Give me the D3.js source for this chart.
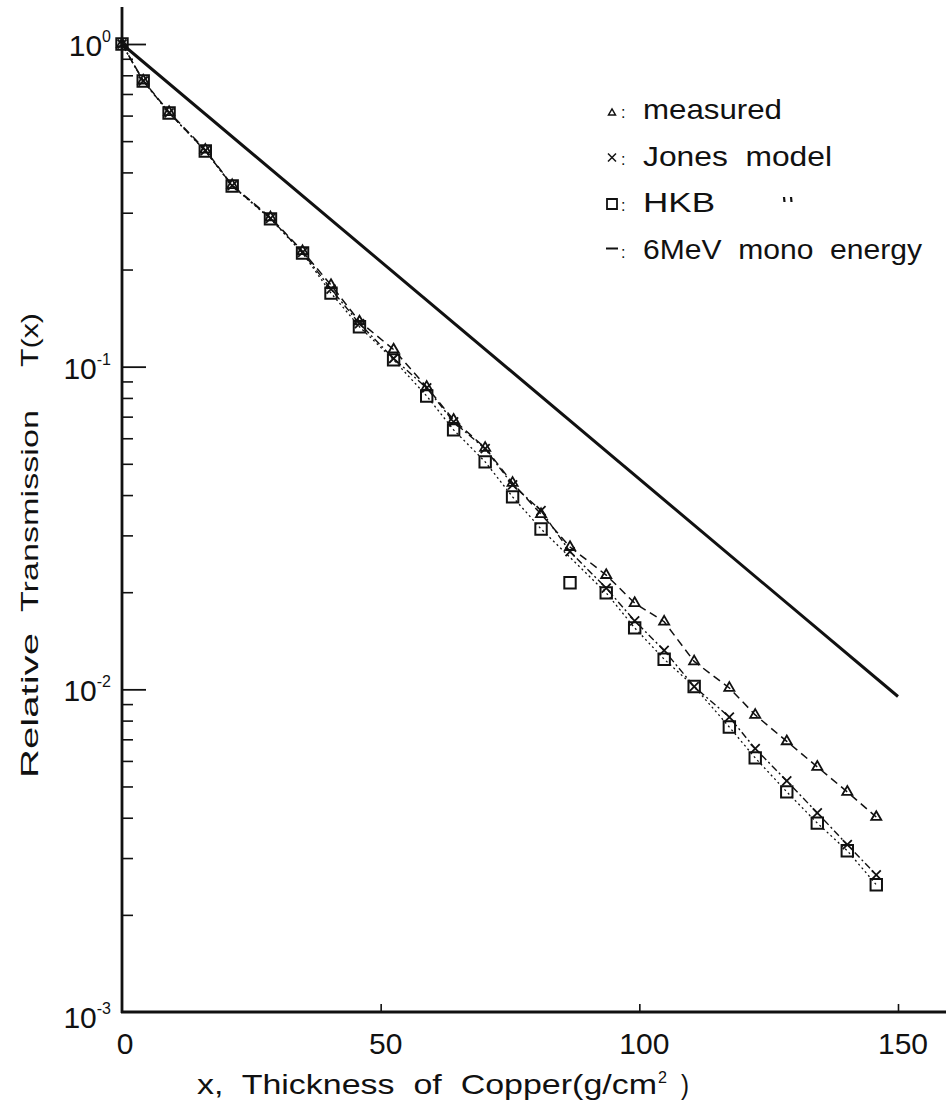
<!DOCTYPE html>
<html>
<head>
<meta charset="utf-8">
<script src="https://cdn.jsdelivr.net/npm/d3@7"></script>
<style>
  html, body { margin: 0; padding: 0; background: #fff; }
  svg { display: block; font-family: "Liberation Sans", Arial, sans-serif; }
</style>
</head>
<body>
<svg id="chart" width="946" height="1110"></svg>
<script>
// --- data (x in g/cm^2, T relative) ---
const thickness = [0, 4.1, 9.1, 16.1, 21.3, 28.7, 34.9, 40.4, 45.9, 52.5, 58.9, 64.1, 70.2,
  75.5, 81.0, 86.6, 93.6, 99.1, 104.8, 110.6, 117.4, 122.4, 128.5, 134.4, 140.2, 145.8];
const measured = [1.0, 0.77, 0.615, 0.47, 0.365, 0.29, 0.228, 0.179, 0.138, 0.113, 0.0865, 0.0684, 0.056,
  0.0436, 0.0349, 0.0276, 0.0226, 0.0185, 0.0162, 0.0122, 0.0101, 0.00833, 0.0069, 0.00575, 0.00481, 0.00402];
const jones = [1.0, 0.768, 0.612, 0.467, 0.364, 0.288, 0.226, 0.174, 0.136, 0.106, 0.0859, 0.0674, 0.0557,
  0.043, 0.0358, 0.0267, 0.0206, 0.0163, 0.0132, 0.0102, 0.0082, 0.00655, 0.0052, 0.00414, 0.0033, 0.00266];
const hkb = [1.0, 0.768, 0.611, 0.466, 0.363, 0.287, 0.225, 0.169, 0.133, 0.105, 0.0811, 0.0637, 0.0507,
  0.0395, 0.0314, 0.0214, 0.0199, 0.0155, 0.0124, 0.0102, 0.00764, 0.00613, 0.00481, 0.00385, 0.00316, 0.00248];
const hkbOffLine = [86.6]; // HKB point that its line skips
const monoX = [0, 150];
const monoT = [1.0, 0.0095];

const xTickValues = [50, 100, 150];
const xTickLabels = [0, 50, 100, 150];
const yDecades = [1, 0.1, 0.01, 0.001];
const yDecadeExps = ["0", "-1", "-2", "-3"];
const legendLabels = ["measured", "Jones model", "HKB", "6MeV mono energy"];

(function () {
  const svg = d3.select("#chart");
  const INK = "#111";

  const x = d3.scaleLinear().domain([0, 150]).range([122, 898]);
  const y = d3.scaleLog().domain([1, 0.001]).range([44, 1012]);
  const y0 = y(0.001);

  // the original uses wide stencil lettering: stretch a run of text to its span
  const word = (g, str, x0, x1, yb, size) =>
    g.append("text")
      .attr("x", x0).attr("y", yb)
      .attr("font-size", size).attr("fill", INK)
      .attr("textLength", x1 - x0).attr("lengthAdjust", "spacingAndGlyphs")
      .attr("xml:space", "preserve")
      .style("white-space", "pre")
      .text(str);

  // --- axes ---
  const minor = [];
  [0.001, 0.01, 0.1].forEach((d) => { for (let k = 2; k <= 9; k++) minor.push(k * d); });

  svg.append("g")
    .attr("transform", `translate(${x(0)},0)`)
    .call(d3.axisRight(y).tickValues(minor).tickSize(11).tickFormat(""))
    .call((g) => g.select(".domain").remove())
    .call((g) => g.selectAll("line").attr("stroke", INK).attr("stroke-width", 1.6));

  svg.append("g")
    .attr("transform", `translate(${x(0)},0)`)
    .call(d3.axisRight(y).tickValues(yDecades.slice(0, 3)).tickSize(24).tickFormat(""))
    .call((g) => g.select(".domain").remove())
    .call((g) => g.selectAll("line").attr("stroke", INK).attr("stroke-width", 1.8));

  svg.append("g")
    .attr("transform", `translate(0,${y0})`)
    .call(d3.axisTop(x).tickValues(xTickValues).tickSize(8).tickFormat(""))
    .call((g) => g.select(".domain").remove())
    .call((g) => g.selectAll("line").attr("stroke", INK).attr("stroke-width", 1.6));

  svg.append("line").attr("x1", x(0)).attr("x2", x(0)).attr("y1", 7).attr("y2", y0 + 1)
    .attr("stroke", INK).attr("stroke-width", 2.8);
  svg.append("line").attr("x1", x(0) - 1).attr("x2", 946).attr("y1", y0).attr("y2", y0)
    .attr("stroke", INK).attr("stroke-width", 2.8);

  // y decade labels 10^n
  const yl = svg.append("g").attr("fill", INK);
  yDecades.forEach((d, i) => {
    const t = yl.append("text")
      .attr("x", x(0) - 11)
      .attr("y", y(d) + (i === 3 ? 16 : 12))
      .attr("text-anchor", "end")
      .attr("font-size", 30);
    t.append("tspan").text("10");
    t.append("tspan").attr("dy", -14).attr("font-size", 16).text(yDecadeExps[i]);
  });

  // x tick labels
  svg.append("g").selectAll("text").data(xTickLabels).join("text")
    .attr("x", (d) => x(d) + (d === 0 ? 3 : 5))
    .attr("y", y0 + 42)
    .attr("text-anchor", "middle")
    .attr("font-size", 30)
    .attr("fill", INK)
    .text((d) => d);

  // x title
  const xg = svg.append("g");
  const xb = 1094;
  word(xg, "x,  Thickness  of  Copper(g/cm", 197, 657, xb, 28);
  word(xg, "2", 658, 667, xb - 11, 17);
  word(xg, ")", 681, 689, xb, 28);

  // y title (rotated; runs bottom to top)
  const yg = svg.append("g").attr("transform", "translate(38,0) rotate(-90)");
  word(yg, "Relative", -778, -633, 0, 24);
  word(yg, "Transmission", -612, -410, 0, 24);
  word(yg, "T(x)", -367, -313, 0, 24);

  // --- lines ---
  const line = d3.line().x((d) => x(d[0])).y((d) => y(d[1]));
  const pts = (vals) => thickness.map((t, i) => [t, vals[i]]);

  svg.append("path")
    .datum(monoX.map((t, i) => [t, monoT[i]]))
    .attr("d", line).attr("fill", "none")
    .attr("stroke", INK).attr("stroke-width", 3);

  svg.append("path")
    .datum(pts(measured))
    .attr("d", line).attr("fill", "none")
    .attr("stroke", INK).attr("stroke-width", 1.5).attr("stroke-dasharray", "8,5");

  svg.append("path")
    .datum(pts(jones))
    .attr("d", line).attr("fill", "none")
    .attr("stroke", INK).attr("stroke-width", 1.4).attr("stroke-dasharray", "7,3,2,3");

  svg.append("path")
    .datum(pts(hkb).filter((d) => !hkbOffLine.includes(d[0])))
    .attr("d", line).attr("fill", "none")
    .attr("stroke", INK).attr("stroke-width", 1.3).attr("stroke-dasharray", "2,3");

  // --- markers ---
  const tri = d3.symbol(d3.symbolTriangle, 44);
  const sq = d3.symbol(d3.symbolSquare, 130);
  const cross = "M-4.5,-4.5L4.5,4.5M-4.5,4.5L4.5,-4.5";

  svg.append("g").selectAll("path").data(pts(hkb)).join("path")
    .attr("transform", (d) => `translate(${x(d[0])},${y(d[1])})`)
    .attr("d", sq).attr("fill", "none").attr("stroke", INK).attr("stroke-width", 2);

  svg.append("g").selectAll("path").data(pts(measured)).join("path")
    .attr("transform", (d) => `translate(${x(d[0])},${y(d[1])})`)
    .attr("d", tri).attr("fill", "none").attr("stroke", INK).attr("stroke-width", 1.8);

  svg.append("g").selectAll("path").data(pts(jones)).join("path")
    .attr("transform", (d) => `translate(${x(d[0])},${y(d[1])})`)
    .attr("d", cross).attr("fill", "none").attr("stroke", INK).attr("stroke-width", 1.8);

  // --- legend ---
  const lg = svg.append("g");
  const rowY = (i) => 119 + i * 46.5;
  const legendRight = [782, 832, 715, 922]; // right edge of each entry
  legendLabels.forEach((lab, i) => {
    word(lg, lab.replace(/ /g, "  "), 643, legendRight[i], rowY(i), 28);
    lg.append("text")
      .attr("x", 621).attr("y", rowY(i) - 1)
      .attr("font-size", 16).attr("fill", INK)
      .text(":");
  });
  // ditto mark after HKB
  [784, 791].forEach((dx) => {
    lg.append("line").attr("x1", dx).attr("x2", dx + 0.5)
      .attr("y1", rowY(2) - 15).attr("y2", rowY(2) - 10)
      .attr("stroke", INK).attr("stroke-width", 2.2);
  });
  const sx = 612;
  lg.append("path").attr("transform", `translate(${sx},${rowY(0) - 6})`)
    .attr("d", d3.symbol(d3.symbolTriangle, 22)).attr("fill", "none")
    .attr("stroke", INK).attr("stroke-width", 1.4);
  lg.append("path").attr("transform", `translate(${sx},${rowY(1) - 8})`)
    .attr("d", "M-4,-4L4,4M-4,4L4,-4").attr("fill", "none")
    .attr("stroke", INK).attr("stroke-width", 1.5);
  lg.append("path").attr("transform", `translate(${sx},${rowY(2) - 8})`)
    .attr("d", d3.symbol(d3.symbolSquare, 100)).attr("fill", "none")
    .attr("stroke", INK).attr("stroke-width", 1.8);
  lg.append("line").attr("x1", sx - 6).attr("x2", sx + 6)
    .attr("y1", rowY(3) - 10).attr("y2", rowY(3) - 10)
    .attr("stroke", INK).attr("stroke-width", 2);
})();
</script>
</body>
</html>
